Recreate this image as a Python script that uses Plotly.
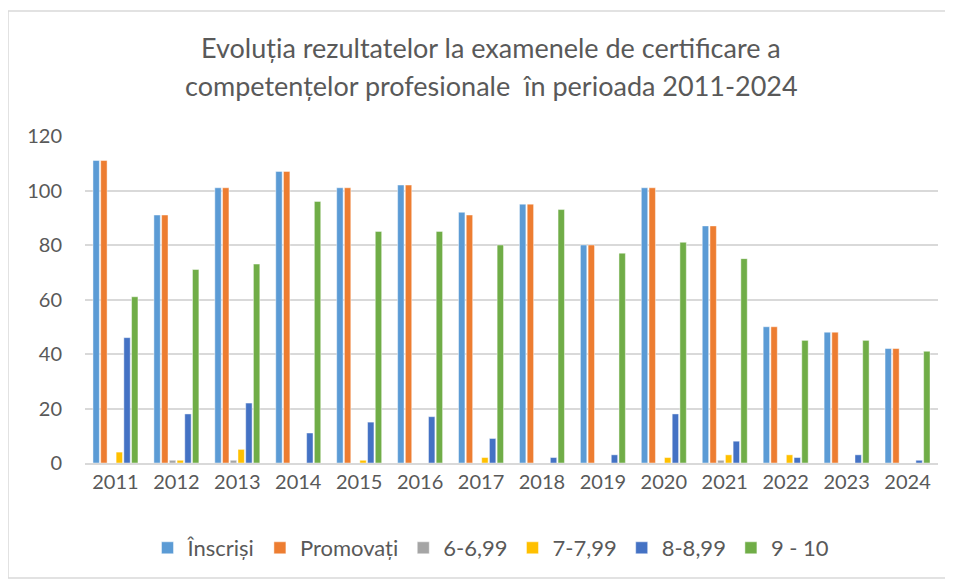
import plotly.graph_objects as go

years = ["2011", "2012", "2013", "2014", "2015", "2016", "2017", "2018", "2019", "2020", "2021", "2022", "2023", "2024"]
inscrisi = [111, 91, 101, 107, 101, 102, 92, 95, 80, 101, 87, 50, 48, 42]
promovati = [111, 91, 101, 107, 101, 102, 91, 95, 80, 101, 87, 50, 48, 42]
n6 = [0, 1, 1, 0, 0, 0, 0, 0, 0, 0, 1, 0, 0, 0]
n7 = [4, 1, 5, 0, 1, 0, 2, 0, 0, 2, 3, 3, 0, 0]
n8 = [46, 18, 22, 11, 15, 17, 9, 2, 3, 18, 8, 2, 3, 1]
n9 = [61, 71, 73, 96, 85, 85, 80, 93, 77, 81, 75, 45, 45, 41]

series = [
    ("Înscriși", inscrisi, "#5B9BD5"),
    ("Promovați", promovati, "#ED7D31"),
    ("6-6,99", n6, "#A5A5A5"),
    ("7-7,99", n7, "#FFC000"),
    ("8-8,99", n8, "#4472C4"),
    ("9 - 10", n9, "#70AD47"),
]

FONT = "Lato, Open Sans, sans-serif"
fig = go.Figure()
for name, vals, col in series:
    fig.add_trace(go.Bar(
        x=years, y=[v if v != 0 else None for v in vals], name=name,
        marker=dict(color=col, line=dict(width=1, color="rgba(255,255,255,0.45)")),
    ))

# page body has an 8px margin; coordinates below are window pixels
OFF = 8
W, H = 953, 579
L, R, T, B = 85 - OFF, 15 + OFF, 136 - OFF, 116 + OFF
pw, ph = W - L - R, H - T - B

def px_x(x):
    return (x - OFF - L) / pw

def px_y(y):
    return (H - B - (y - OFF)) / ph

fig.update_layout(
    width=W, height=H,
    margin=dict(l=L, r=R, t=T, b=B),
    paper_bgcolor="white", plot_bgcolor="white",
    barmode="group", bargap=0.24, bargroupgap=0.17,
    font=dict(family=FONT, color="#595959", size=20),
    showlegend=True,
    legend=dict(orientation="h", x=px_x(491), xanchor="center", y=px_y(548), yanchor="middle",
                font=dict(size=22, color="#595959"), itemwidth=30, traceorder="normal"),
    xaxis=dict(showgrid=False, showline=True, linecolor="#D9D9D9", linewidth=1.5,
               ticks="", tickfont=dict(size=20, color="#595959")),
    yaxis=dict(range=[0, 120], dtick=20, showgrid=True, gridcolor="#D9D9D9", gridwidth=1.5,
               zeroline=False, showline=False, ticks="",
               tickfont=dict(size=20, color="#595959"), ticklabelstandoff=22),
    annotations=[
        dict(text="Evoluția rezultatelor la examenele de certificare a", xref="paper", yref="paper",
             x=px_x(491), y=px_y(47), xanchor="center", yanchor="middle", showarrow=False,
             font=dict(size=27, color="#595959", family=FONT)),
        dict(text="competențelor profesionale  în perioada 2011-2024", xref="paper", yref="paper",
             x=px_x(491), y=px_y(85), xanchor="center", yanchor="middle", showarrow=False,
             font=dict(size=27, color="#595959", family=FONT)),
    ],
    shapes=[
        dict(type="rect", xref="paper", yref="paper", x0=px_x(8), x1=px_x(970), y0=px_y(578), y1=px_y(11),
             line=dict(color="#D9D9D9", width=1.5), fillcolor="rgba(0,0,0,0)", layer="below"),
    ],
)

fig.write_html("out.html")
